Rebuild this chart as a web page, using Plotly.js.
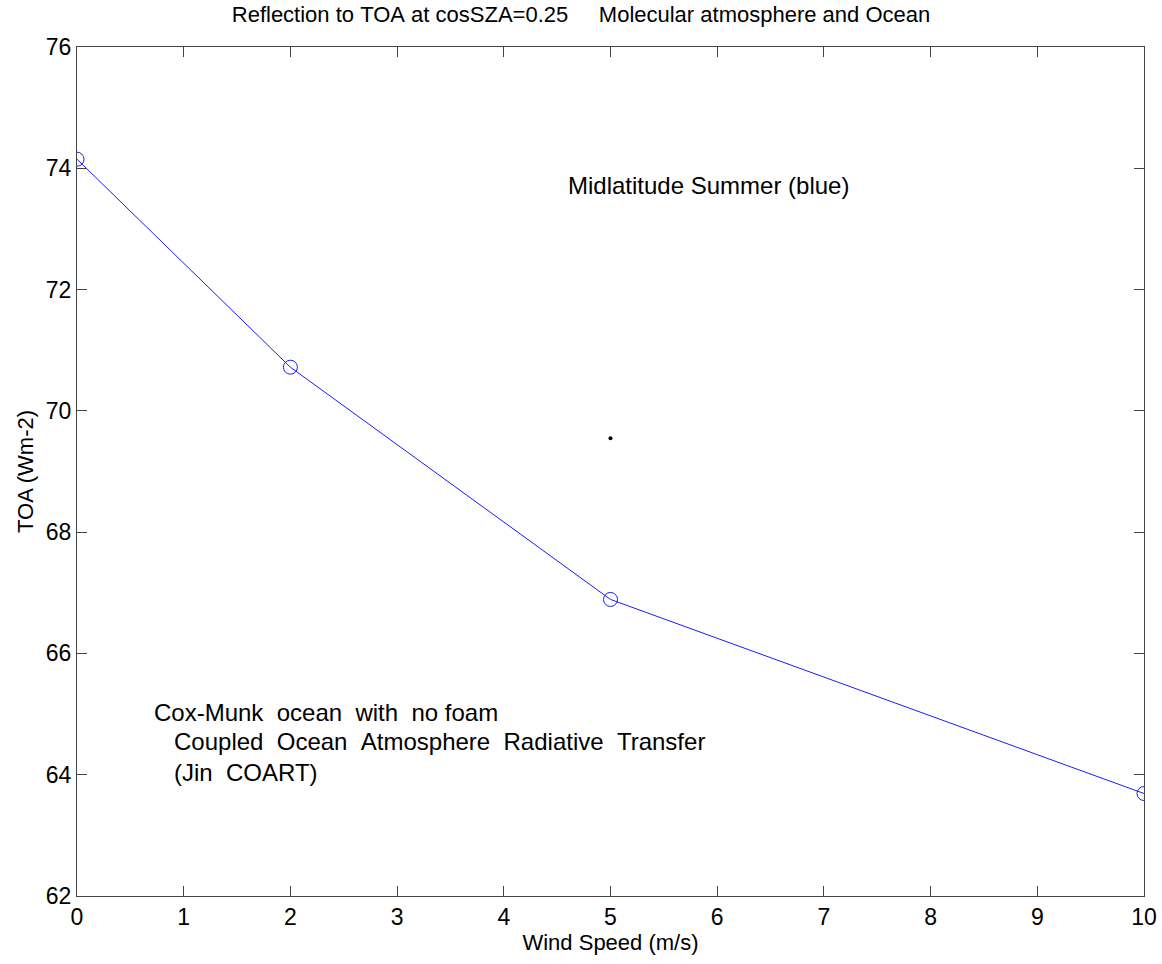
<!DOCTYPE html>
<html>
<head>
<meta charset="utf-8">
<script src="https://cdn.plot.ly/plotly-3.0.1.min.js"></script>
<style>html,body{margin:0;padding:0;background:#fff;}</style>
</head>
<body>
<div id="chart" style="width:1162px;height:964px;"></div>
<script>
// Data
const windSpeed = [0, 2, 5, 10];
const toaFlux = [74.15, 70.72, 66.89, 63.69];
const dotX = [5];
const dotY = [69.55];
const xTicks = [0, 1, 2, 3, 4, 5, 6, 7, 8, 9, 10];
const yTicks = [62, 64, 66, 68, 70, 72, 74, 76];

const titleText = "Reflection to TOA at cosSZA=0.25     Molecular atmosphere and Ocean";
const noteLines = [
  "Cox-Munk  ocean  with  no foam",
  "   Coupled  Ocean  Atmosphere  Radiative  Transfer",
  "   (Jin  COART)"
];
const noteY = [65.02, 64.55, 64.03];
const labelText = "Midlatitude Summer (blue)";

const nb = s => s.replace(/ /g, "\u00A0");
const FONT = "Arial, 'Liberation Sans', sans-serif";

const traces = [
  {
    x: windSpeed, y: toaFlux, type: "scatter", mode: "lines+markers",
    line: {color: "#1a1aff", width: 1},
    marker: {symbol: "circle-open", size: 14, color: "#1a1aff", line: {width: 1, color: "#1a1aff"}},
    hoverinfo: "skip"
  },
  {
    x: dotX, y: dotY, type: "scatter", mode: "markers",
    marker: {symbol: "circle", size: 4, color: "#000"},
    hoverinfo: "skip"
  }
];

const annotations = [
  {x: 4.58, y: 73.72, xref: "x", yref: "y", text: nb(labelText), showarrow: false,
   xanchor: "left", yanchor: "middle", font: {family: FONT, size: 24, color: "#000"}}
];
noteLines.forEach((t, i) => {
  annotations.push({x: 0.7, y: noteY[i], xref: "x", yref: "y", text: nb(t), showarrow: false,
    xanchor: "left", yanchor: "middle", font: {family: FONT, size: 24, color: "#000"}});
});

const layout = {
  width: 1162, height: 964,
  margin: {l: 77, r: 18, t: 47, b: 68},
  paper_bgcolor: "#fff", plot_bgcolor: "#fff",
  showlegend: false,
  font: {family: FONT, size: 22, color: "#000"},
  title: {text: nb(titleText), x: 0.5, xanchor: "center", y: 0.985, yanchor: "middle",
          font: {family: FONT, size: 22, color: "#000"}},
  xaxis: {
    range: [0, 10], tickvals: xTicks, ticktext: xTicks.map(String),
    showgrid: false, zeroline: false, showline: true, linecolor: "#444", linewidth: 1,
    mirror: "ticks", ticks: "inside", ticklen: 10, tickcolor: "#444", tickwidth: 1,
    tickfont: {family: FONT, size: 23, color: "#000"},
    title: {text: "Wind Speed (m/s)", font: {family: FONT, size: 22, color: "#000"}, standoff: 6}
  },
  yaxis: {
    range: [62, 76], tickvals: yTicks, ticktext: yTicks.map(String),
    showgrid: false, zeroline: false, showline: true, linecolor: "#444", linewidth: 1,
    mirror: "ticks", ticks: "inside", ticklen: 10, tickcolor: "#444", tickwidth: 1,
    tickfont: {family: FONT, size: 23, color: "#000"},
    title: {text: "TOA (Wm-2)", font: {family: FONT, size: 22, color: "#000"}, standoff: 6}
  },
  annotations: annotations
};

Plotly.newPlot("chart", traces, layout, {staticPlot: true, displayModeBar: false});
</script>
</body>
</html>
